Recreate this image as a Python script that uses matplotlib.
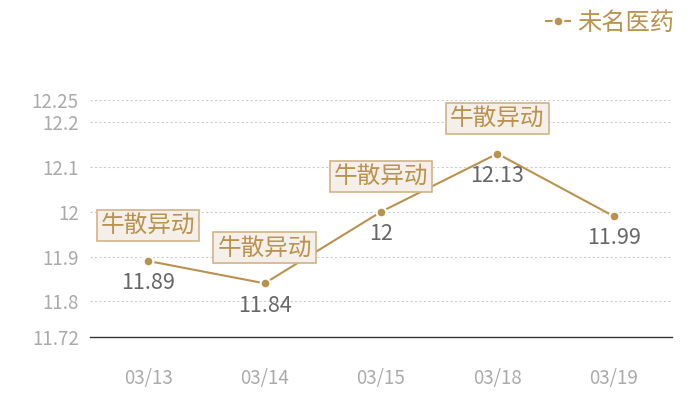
import matplotlib
matplotlib.use("Agg")
import matplotlib.pyplot as plt

plt.rcParams['font.family'] = ['Noto Sans CJK SC', 'DejaVu Sans']

dates = ["03/13", "03/14", "03/15", "03/18", "03/19"]
prices = [11.89, 11.84, 12.00, 12.13, 11.99]
value_labels = ["11.89", "11.84", "12", "12.13", "11.99"]
flags = [True, True, True, True, False]
flag_text = "牛散异动"
series_name = "未名医药"
yticks = [11.72, 11.8, 11.9, 12.0, 12.1, 12.2, 12.25]
ytick_labels = ["11.72", "11.8", "11.9", "12", "12.1", "12.2", "12.25"]

gold = "#b8924e"
fig = plt.figure(figsize=(7, 4), dpi=100)
ax = fig.add_axes([90/700, 63/400, 582/700, 237/400])

x = list(range(len(dates)))
ax.plot(x, prices, color=gold, lw=1.5, marker='o', markersize=7,
        markerfacecolor=gold, markeredgecolor='white', markeredgewidth=1.5,
        label=series_name, zorder=3)

ax.set_xlim(-0.5, len(dates) - 0.5)
ax.set_ylim(yticks[0], yticks[-1])
ax.set_yticks(yticks)
ax.set_yticklabels(ytick_labels)
ax.set_xticks(x)
ax.set_xticklabels(dates)
ax.tick_params(axis='y', length=0, pad=8, labelsize=13.5, labelcolor='#aaaaaa')
ax.tick_params(axis='x', length=0, pad=22, labelsize=13.5, labelcolor='#aaaaaa')

for t in yticks[1:]:
    ax.axhline(t, color='#cccccc', lw=0.8, ls=(0, (2, 2)), zorder=1)

for s in ['left', 'right', 'top']:
    ax.spines[s].set_visible(False)
ax.spines['bottom'].set_color('#333333')
ax.spines['bottom'].set_linewidth(1)

for xi, yi, lab, fl in zip(x, prices, value_labels, flags):
    ax.annotate(lab, (xi, yi), xytext=(0, -16), textcoords='offset points',
                ha='center', va='center', fontsize=15.5, color='#666666', zorder=4)
    if fl:
        ax.annotate(flag_text, (xi, yi), xytext=(0, 25.5), textcoords='offset points',
                    ha='center', va='center', fontsize=17, color=gold, zorder=5,
                    bbox=dict(boxstyle='square,pad=0.17', facecolor='#f4efe8',
                              edgecolor='#d2b487', lw=1.2))

leg = fig.legend(loc='upper right', bbox_to_anchor=(0.995, 1.03), frameon=False,
                 fontsize=17.5, handlelength=1.0, handletextpad=0.3, labelcolor=gold)

fig.savefig("out.png", dpi=100)
